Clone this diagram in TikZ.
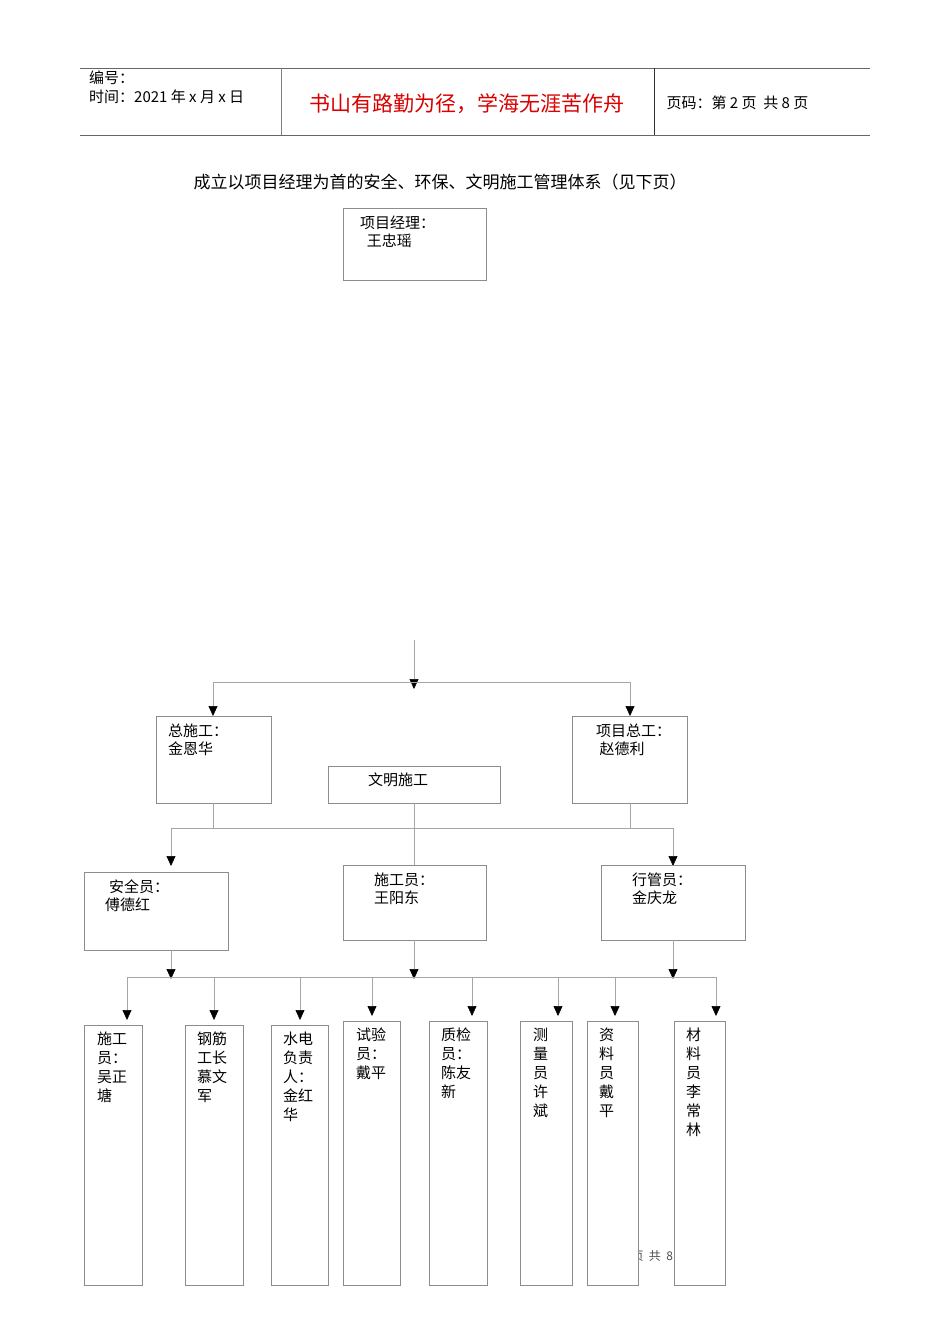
\documentclass[tikz,border=0pt]{standalone}
\usepackage{fontspec}
\setmainfont{Noto Sans CJK SC}
\usetikzlibrary{arrows.meta}
\begin{document}
\begin{tikzpicture}[x=1pt,y=-1pt,
  bx/.style={draw=black!45,line width=0.6pt,fill=white},
  ln/.style={draw=black!35,line width=0.6pt},
  ar/.style={ln,-{Triangle[length=10pt,width=9pt,fill=black,color=black]}},
  tx/.style={font=\fontsize{15}{18}\selectfont,anchor=north west,inner sep=0pt,align=left},
  vt/.style={font=\fontsize{15}{19}\selectfont,anchor=north west,inner sep=0pt,align=left}]
\useasboundingbox (0,0) rectangle (950,1344);
% header
\draw[black!60,line width=1pt] (80,68) -- (870,68);
\draw[black!60,line width=1pt] (80,135) -- (870,135);
\draw[black!50,line width=0.8pt] (281,68) -- (281,135);
\draw[black!80,line width=0.8pt] (654,68) -- (654,135);
\node[tx,font=\fontsize{15}{19}\selectfont] (h1) at (89,71) {编号：\\时间：2021 年 x 月 x 日};
\node[font=\fontsize{21}{24}\selectfont,text=red!85!black] (h2) at (467,104) {书山有路勤为径，学海无涯苦作舟};
\node[font=\fontsize{15}{18}\selectfont,anchor=west] (h3) at (663,103) {页码：第 2 页\ \ 共 8 页};
\node[font=\fontsize{17}{20}\selectfont] (title) at (440,182) {成立以项目经理为首的安全、环保、文明施工管理体系（见下页）};
% boxes
\draw[bx] (343,208) rectangle (486,280); \node[tx] (pm) at (360,216) {项目经理：\\\ \ 王忠瑶};
\coordinate (t1) at (414,640); \coordinate (t2) at (414,689);
\coordinate (hl) at (213,682); \coordinate (hr) at (630,682);
\draw[ar] (t1) -- (t2);
\draw[ln] (hl) -- (hr);
\draw[ar] (hl) -- (213,716);
\draw[ar] (hr) -- (630,716);
\draw[bx] (156,716) rectangle (271,803); \node[tx] (zs) at (168,724) {总施工：\\金恩华};
\draw[bx] (572,716) rectangle (687,803); \node[tx] (xz) at (596,724) {项目总工：\\\ 赵德利};
\draw[bx] (328,766) rectangle (500,803); \node[tx] (wm) at (368,773) {文明施工};
\coordinate (ml) at (171,828); \coordinate (mr) at (673,828);
\draw[ln] (ml) -- (mr);
\draw[ln] (213,803) -- (213,828);
\draw[ln] (630,803) -- (630,828);
\draw[ln] (414,803) -- (414,865);
\draw[ar] (ml) -- (171,866);
\draw[ar] (mr) -- (673,866);
\draw[bx] (84,872) rectangle (228,950); \node[tx] (aq) at (109,880) {安全员：\\[-0pt]\hspace*{-4pt}傅德红};
\draw[bx] (343,865) rectangle (486,940); \node[tx] (sg) at (374,873) {施工员：\\王阳东};
\draw[bx] (601,865) rectangle (745,940); \node[tx] (xg) at (632,873) {行管员：\\金庆龙};
\draw[ar] (171,950) -- (171,979);
\draw[ar] (414,940) -- (414,979);
\draw[ar] (673,940) -- (673,979);
\draw[ln] (127,977) -- (716,977);
\foreach \x/\y in {127/1020,214/1020,300/1020,372/1016,472/1016,558/1016,615/1016,716/1016}
  \draw[ar] (\x,977) -- (\x,\y);
\node[font=\fontsize{12}{14}\selectfont,text=black!70,anchor=west] (pg) at (628,1256) {页\ \ 共\ \ 8};
\draw[bx] (84,1025) rectangle (142,1285); \node[vt] at (97,1032) {施工\\员：\\吴正\\塘};
\draw[bx] (185,1025) rectangle (243,1285); \node[vt] at (197,1032) {钢筋\\工长\\慕文\\军};
\draw[bx] (271,1025) rectangle (328,1285); \node[vt] at (283,1032) {水电\\负责\\人：\\金红\\华};
\draw[bx] (343,1021) rectangle (400,1285); \node[vt] at (356,1028) {试验\\员：\\戴平};
\draw[bx] (429,1021) rectangle (487,1285); \node[vt] at (441,1028) {质检\\员：\\陈友\\新};
\draw[bx] (520,1021) rectangle (572,1285); \node[vt] at (533,1028) {测\\量\\员\\许\\斌};
\draw[bx] (587,1021) rectangle (638,1285); \node[vt] at (599,1028) {资\\料\\员\\戴\\平};
\draw[bx] (674,1021) rectangle (725,1285); \node[vt] at (686,1028) {材\\料\\员\\李\\常\\林};
\end{tikzpicture}
\end{document}
